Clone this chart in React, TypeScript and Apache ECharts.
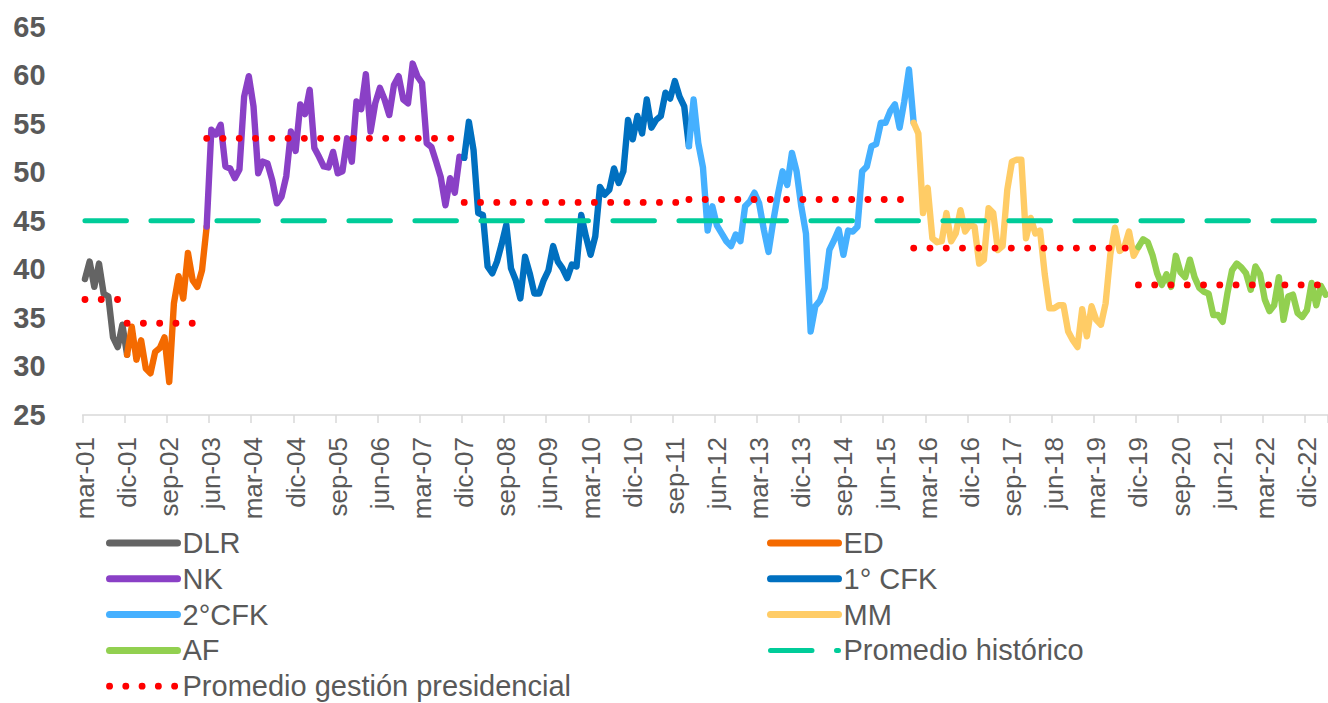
import React, { useEffect, useRef } from "react";
import * as echarts from "echarts";

// ---- categories: monthly, mar-01 .. abr-23 ----
const MONTHS = ["ene", "feb", "mar", "abr", "may", "jun", "jul", "ago", "sep", "oct", "nov", "dic"];
const START_YEAR = 2001;
const START_MONTH = 2; // mar
const N_MONTHS = 266;
const categories: string[] = [];
for (let k = 0; k < N_MONTHS; k++) {
  const m = (START_MONTH + k) % 12;
  const y = START_YEAR + Math.floor((START_MONTH + k) / 12);
  categories.push(`${MONTHS[m]}-${String(y % 100).padStart(2, "0")}`);
}

// ---- series values (start index into categories + values) ----
const dlrStart = 0;
const dlr = [39.0, 40.8, 38.2, 40.6, 37.5, 37.2, 33.0, 32.0, 34.3, 31.2];

const edStart = 9;
const ed = [31.2, 34.1, 30.7, 32.7, 29.8, 29.3, 31.5, 31.9, 33.0, 28.4, 36.5, 39.3, 37.0, 41.7, 38.9, 38.2, 39.9, 44.4];

const nkStart = 26;
const nk = [
  44.4, 54.4, 53.9, 54.9, 50.6, 50.4, 49.4, 50.3, 57.8, 59.9, 56.8, 49.9, 51.1, 50.9, 49.2, 46.8, 47.5, 49.6,
  54.2, 52.2, 57.0, 56.0, 58.5, 52.5, 51.6, 50.6, 50.5, 52.1, 49.9, 50.1, 53.5, 51.1, 57.3, 56.5, 60.1, 54.2,
  57.1, 58.7, 57.5, 55.9, 59.0, 59.9, 57.5, 57.1, 61.2, 59.9, 59.2, 53.0, 52.6, 51.1, 49.5, 46.6, 49.4, 47.9,
  51.6, 51.5,
];

const cfk1Start = 81;
const cfk1 = [
  51.5, 55.2, 52.3, 45.8, 45.6, 40.3, 39.6, 40.8, 42.6, 44.6, 40.1, 38.9, 37.0, 41.3, 39.6, 37.5, 37.5, 38.9,
  39.9, 42.4, 40.8, 40.1, 39.1, 40.5, 40.3, 45.6, 43.4, 41.5, 43.4, 48.5, 47.7, 48.2, 50.4, 48.9, 50.1, 55.4,
  53.4, 55.8, 54.0, 57.5, 54.6, 55.4, 55.8, 58.2, 57.6, 59.4, 57.8, 56.8, 52.7,
];

const cfk2Start = 129;
const cfk2 = [
  52.7, 57.5, 53.0, 50.5, 44.0, 46.5, 44.5, 43.7, 42.9, 42.4, 43.6, 42.9, 46.5, 47.0, 47.9, 46.8, 44.1, 41.8,
  44.9, 47.7, 50.1, 48.7, 52.0, 50.1, 46.5, 43.7, 33.6, 36.2, 36.8, 38.1, 42.0, 43.0, 44.1, 41.5, 44.0, 43.9,
  44.4, 50.1, 50.6, 52.7, 52.9, 55.1, 55.1, 56.3, 57.0, 54.6, 57.3, 60.6, 55.1,
];

const mmStart = 177;
const mm = [
  55.1, 54.0, 45.8, 48.4, 43.2, 42.8, 42.9, 45.8, 42.9, 43.7, 46.1, 43.9, 44.6, 44.4, 40.6, 41.0, 46.3, 45.8,
  42.0, 42.4, 48.2, 51.1, 51.3, 51.3, 43.2, 45.3, 43.7, 44.0, 39.5, 36.0, 36.0, 36.3, 36.3, 33.6, 32.7, 32.0,
  35.9, 33.1, 36.2, 34.8, 34.3, 36.5, 41.5, 44.3, 41.9, 42.3, 43.9, 41.4, 42.3,
];

const afStart = 225;
const af = [
  42.3, 43.1, 42.8, 41.5, 39.6, 38.4, 39.5, 38.2, 41.4, 39.7, 39.2, 41.0, 39.2, 38.1, 37.7, 37.5, 35.3, 35.3,
  34.6, 37.5, 39.9, 40.6, 40.2, 39.6, 37.9, 40.3, 39.5, 36.9, 35.7, 36.3, 39.2, 34.8, 37.2, 37.4, 35.5, 35.1,
  35.8, 38.6, 36.3, 38.3, 37.4,
];

// ---- averages ----
const historicalAverage = 45;
const presAvgValues = [36.9, 34.45, 53.5, 46.9, 47.2, 42.2, 38.4];
const presAvgStart = [0, 9, 26, 81, 129, 177, 225];
const presAvgEnd = [8, 25, 80, 128, 176, 224, 265];

// ---- y ticks ----
const yMin = 25;
const yMax = 65;
const yStep = 5;

const GOVS = [
  { name: "DLR", start: dlrStart, values: dlr, color: "#646464" },
  { name: "ED", start: edStart, values: ed, color: "#f46a00" },
  { name: "NK", start: nkStart, values: nk, color: "#8a40c6" },
  { name: "1° CFK", start: cfk1Start, values: cfk1, color: "#0070c0" },
  { name: "2°CFK", start: cfk2Start, values: cfk2, color: "#45b0ff" },
  { name: "MM", start: mmStart, values: mm, color: "#ffcc66" },
  { name: "AF", start: afStart, values: af, color: "#92d050" },
];

const PRES_AVG_NAME = "Promedio gestión presidencial";
const HIST_AVG_NAME = "Promedio histórico";

function placed(start: number, values: number[]): (number | null)[] {
  const out: (number | null)[] = new Array(N_MONTHS).fill(null);
  values.forEach((v, k) => {
    out[start + k] = v;
  });
  return out;
}

const FONT = "'Liberation Sans', Arial, sans-serif";
const TEXT_COLOR = "#595959";

export default function App() {
  const ref = useRef<HTMLDivElement>(null);

  useEffect(() => {
    if (!ref.current) return;
    const chart = echarts.init(ref.current, null, { renderer: "svg" });

    const series: any[] = [];
    GOVS.forEach((g) => {
      series.push({
        name: g.name,
        type: "line",
        data: placed(g.start, g.values),
        symbol: "none",
        connectNulls: false,
        z: 2,
        lineStyle: { color: g.color, width: 6.4, cap: "round", join: "round" },
        itemStyle: { color: g.color },
      });
    });

    series.push({
      name: HIST_AVG_NAME,
      type: "line",
      data: new Array(N_MONTHS).fill(historicalAverage),
      symbol: "none",
      z: 3,
      lineStyle: { color: "#00cc99", width: 5, type: [41.5, 24.5], cap: "round" },
      itemStyle: { color: "#00cc99" },
    });

    presAvgValues.forEach((v, k) => {
      const vals: number[] = [];
      for (let i = presAvgStart[k]; i <= presAvgEnd[k]; i++) vals.push(v);
      series.push({
        name: PRES_AVG_NAME,
        type: "line",
        data: placed(presAvgStart[k], vals),
        symbol: "none",
        z: 4,
        lineStyle: { color: "#ff0000", width: 6.8, type: [0.1, 16.17], cap: "round" },
        itemStyle: { color: "#ff0000" },
      });
    });

    const legendCommon = {
      orient: "vertical",
      top: 528,
      padding: 0,
      itemWidth: 68,
      itemHeight: 14,
      itemGap: 5.8,
      selectedMode: false,
      itemStyle: { opacity: 0, borderWidth: 0 },
      textStyle: { fontFamily: FONT, fontSize: 29, color: TEXT_COLOR, lineHeight: 30 },
      lineStyle: { width: 7 },
    };

    chart.setOption({
      animation: false,
      backgroundColor: "#ffffff",
      grid: { left: 82.6, right: 0, top: 26.7, bottom: 288, containLabel: false },
      legend: [
        {
          ...legendCommon,
          left: 106,
          data: [
            { name: "DLR" },
            { name: "NK" },
            { name: "2°CFK" },
            { name: "AF" },
            { name: PRES_AVG_NAME, lineStyle: { width: 6.8 } },
          ],
        },
        {
          ...legendCommon,
          left: 767,
          data: [
            { name: "ED" },
            { name: "1° CFK" },
            { name: "MM" },
            { name: HIST_AVG_NAME, lineStyle: { width: 5 } },
          ],
        },
      ],
      xAxis: {
        type: "category",
        data: categories,
        boundaryGap: true,
        axisLine: { lineStyle: { color: "#d9d9d9", width: 1.5 } },
        axisTick: { show: true, interval: 8, length: 8, lineStyle: { color: "#d9d9d9", width: 1.5 } },
        axisLabel: {
          interval: 8,
          rotate: 90,
          margin: 22,
          fontFamily: FONT,
          fontSize: 26,
          color: TEXT_COLOR,
        },
        splitLine: { show: false },
      },
      yAxis: {
        type: "value",
        min: yMin,
        max: yMax,
        interval: yStep,
        axisLine: { show: false },
        axisTick: { show: false },
        splitLine: { show: false },
        axisLabel: {
          margin: 37,
          fontFamily: FONT,
          fontSize: 29,
          fontWeight: "bold",
          color: TEXT_COLOR,
        },
      },
      series,
    });

    return () => chart.dispose();
  }, []);

  return (
    <div
      ref={ref}
      style={{ position: "fixed", left: 0, top: 0, width: 1328, height: 703, background: "#fff" }}
    />
  );
}
